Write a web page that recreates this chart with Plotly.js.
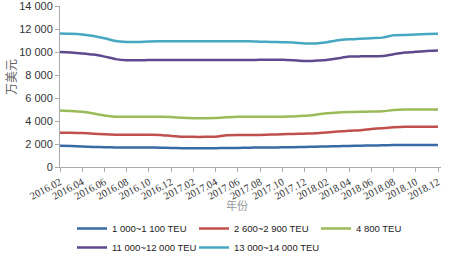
<!DOCTYPE html>
<html><head><meta charset="utf-8">
<script src="https://cdn.plot.ly/plotly-3.0.1.min.js"></script>
<style>html,body{margin:0;padding:0;background:#fff;}#chart{width:450px;height:256px;}</style>
</head><body><div id="chart"></div>
<script>
const months = ["2016.02","2016.03","2016.04","2016.05","2016.06","2016.07","2016.08","2016.09","2016.10","2016.11","2016.12","2017.01",
"2017.02","2017.03","2017.04","2017.05","2017.06","2017.07","2017.08","2017.09","2017.10","2017.11","2017.12","2018.01",
"2018.02","2018.03","2018.04","2018.05","2018.06","2018.07","2018.08","2018.09","2018.10","2018.11","2018.12"];
const tickLabels = months.filter((m, i) => i % 2 === 0);
const seriesNames = ["1 000~1 100 TEU","2 600~2 900 TEU","4 800 TEU","11 000~12 000 TEU","13 000~14 000 TEU"];
const teu1000 = [1850,1820,1780,1750,1720,1700,1690,1690,1690,1680,1660,1640,1630,1630,1640,1650,1660,1680,1690,1700,1710,1720,1740,1770,1790,1810,1830,1850,1870,1890,1910,1910,1910,1910,1910];
const teu2600 = [2980,2970,2950,2900,2850,2810,2800,2800,2800,2790,2700,2630,2620,2620,2640,2760,2780,2780,2790,2820,2850,2880,2900,2930,3000,3080,3150,3200,3300,3380,3450,3500,3500,3500,3500];
const teu4800 = [4920,4880,4800,4650,4480,4380,4370,4370,4370,4370,4340,4280,4250,4250,4260,4320,4370,4370,4370,4370,4380,4400,4450,4550,4680,4750,4780,4800,4820,4850,4950,5000,5010,5010,5010];
const teu11000 = [10000,9950,9880,9780,9600,9380,9280,9280,9300,9310,9310,9310,9310,9310,9310,9310,9310,9310,9320,9320,9320,9280,9220,9250,9300,9450,9600,9620,9620,9650,9800,9950,10020,10080,10120];
const teu13000 = [11600,11580,11520,11400,11200,10950,10880,10880,10920,10930,10930,10930,10930,10930,10930,10930,10930,10930,10900,10880,10850,10830,10750,10750,10850,11020,11100,11150,11200,11250,11450,11480,11520,11560,11580];
const yTicks = [0,2000,4000,6000,8000,10000,12000,14000];
const colors = ["#386aa6","#c0504d","#9bbb59","#5e4a8c","#46a8c0"];
const allSeries = [teu1000, teu2600, teu4800, teu11000, teu13000];

const traces = allSeries.map((vals, i) => ({
  type: "scatter", mode: "lines", x: months, y: vals, name: seriesNames[i],
  line: {color: colors[i], width: 2.5, shape: "spline", smoothing: 0.6},
  hoverinfo: "skip"
}));

const layout = {
  width: 450, height: 256,
  margin: {l: 60, r: 9, t: 6, b: 89, autoexpand: false},
  paper_bgcolor: "#fff", plot_bgcolor: "#fff",
  separators: ". ",
  showlegend: true,
  font: {family: "Liberation Sans, Arial, sans-serif", color: "#333", size: 11},
  xaxis: {
    type: "category", range: [0, 34.27],
    tickmode: "array", tickvals: tickLabels, ticktext: tickLabels,
    tickangle: -28,
    tickfont: {family: "Liberation Serif, Times New Roman, serif", size: 10.5, color: "#333"},
    showgrid: false, zeroline: false,
    showline: true, linecolor: "#aaa", linewidth: 1,
    ticks: "outside", ticklen: 4, tickcolor: "#aaa"
  },
  yaxis: {
    range: [0, 14000], tickmode: "array", tickvals: yTicks,
    tickformat: ",d", ticklabeloverflow: "allow",
    tickfont: {family: "Liberation Sans, Arial, sans-serif", size: 11, color: "#333"},
    showgrid: false, zeroline: false,
    showline: true, linecolor: "#aaa", linewidth: 1,
    ticks: "outside", ticklen: 4, tickcolor: "#aaa"
  },
  legend: {
    orientation: "h", x: 72/450, xanchor: "left", y: 1 - 214/256, yanchor: "top",
    xref: "container", yref: "container",
    font: {family: "Liberation Sans, Arial, sans-serif", size: 9.5, color: "#222"},
    entrywidth: 77, entrywidthmode: "pixels",
    itemwidth: 30, tracegroupgap: 0,
    bgcolor: "rgba(0,0,0,0)"
  },
  annotations: [{
    text: "万美元", xref: "paper", yref: "paper",
    x: -50/391, y: 0.56, xanchor: "center", yanchor: "middle",
    textangle: -90, showarrow: false,
    font: {family: "Noto Sans CJK SC", size: 12, color: "#666"}
  }, {
    text: "年份", xref: "paper", yref: "paper",
    x: (237-60)/381, y: -(205-167)/161, xanchor: "center", yanchor: "middle",
    showarrow: false,
    font: {family: "Noto Sans CJK SC", size: 11, color: "#999"}
  }]
};

Plotly.newPlot("chart", traces, layout, {staticPlot: true, displayModeBar: false});
</script></body></html>
